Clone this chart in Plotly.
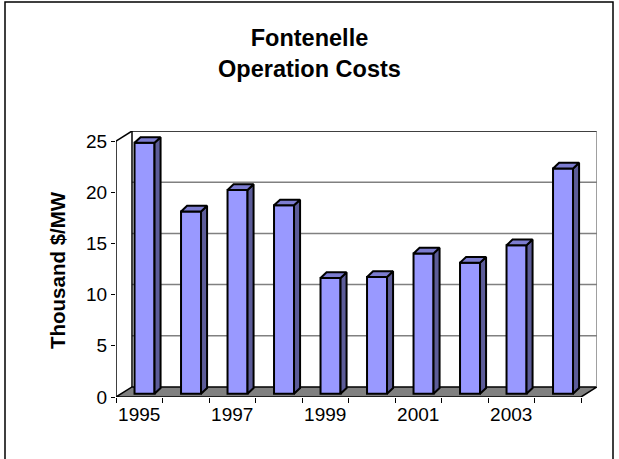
import plotly.graph_objects as go

# Dados (mil $/MW por ano)
anos = [1995, 1996, 1997, 1998, 1999, 2000, 2001, 2002, 2003, 2004]
custos = [24.5, 17.8, 19.9, 18.4, 11.3, 11.4, 13.7, 12.8, 14.5, 22.0]
rotulos_x = ["1995", "1997", "1999", "2001", "2003"]
ticks_y = [0, 5, 10, 15, 20, 25]

# Geometria do "3D" (em unidades de dados): profundidade total da parede
PROF_X = 0.344
PROF_Y = 0.98
# Posição da barra dentro da profundidade e espessura dela
FRENTE = 0.33
BARRA_DX = 0.13
BARRA_DY = 0.55
LARGURA = 0.43
Y_MAX = 25

W, H = 619, 459
M = dict(l=116, r=22, t=131, b=62)

COR_FRENTE = "#9999FF"
COR_LADO = "#5C5C99"
COR_TOPO = "#7C7CD0"
CINZA = "#808080"
FONTE = "Arial, Liberation Sans, sans-serif"

n = len(anos)
base = FRENTE * PROF_Y
xs = [i + 0.5 + FRENTE * PROF_X for i in range(n)]

# Faces laterais e superiores (um polígono por barra, separados por None)
lado_x, lado_y, topo_x, topo_y = [], [], [], []
for xc, v in zip(xs, custos):
    xl, xr = xc - LARGURA / 2, xc + LARGURA / 2
    top = base + v
    lado_x += [xr, xr, xr + BARRA_DX, xr + BARRA_DX, xr, None]
    lado_y += [base, top, top + BARRA_DY, base + BARRA_DY, base, None]
    topo_x += [xl, xr, xr + BARRA_DX, xl + BARRA_DX, xl, None]
    topo_y += [top, top, top + BARRA_DY, top + BARRA_DY, top, None]

fig = go.Figure()
fig.add_trace(go.Bar(
    x=xs, y=custos, base=[base] * n, width=LARGURA,
    marker=dict(color=COR_FRENTE, line=dict(color="black", width=2)),
    hovertext=[str(a) for a in anos], hoverinfo="text+y", showlegend=False,
))
fig.add_trace(go.Scatter(x=lado_x, y=lado_y, mode="lines", fill="toself",
                         fillcolor=COR_LADO, line=dict(color="black", width=2),
                         hoverinfo="skip", showlegend=False))
fig.add_trace(go.Scatter(x=topo_x, y=topo_y, mode="lines", fill="toself",
                         fillcolor=COR_TOPO, line=dict(color="black", width=2),
                         hoverinfo="skip", showlegend=False))

# Paredes, piso e grade (abaixo das barras)
shapes = []
topo_parede = Y_MAX + PROF_Y
for g in ticks_y[1:-1]:
    shapes.append(dict(type="line", x0=PROF_X, x1=n + PROF_X, y0=g + PROF_Y, y1=g + PROF_Y,
                       line=dict(color=CINZA, width=1.5), layer="below"))
shapes.append(dict(type="path", layer="below", fillcolor=CINZA,
                   line=dict(color="black", width=1.5),
                   path=f"M0,0 L{n},0 L{n + PROF_X},{PROF_Y} L{PROF_X},{PROF_Y} Z"))
preto = dict(color="black", width=1.5)
shapes += [
    dict(type="line", x0=PROF_X, x1=n + PROF_X, y0=topo_parede, y1=topo_parede, line=preto, layer="below"),
    dict(type="line", x0=PROF_X, x1=PROF_X, y0=PROF_Y, y1=topo_parede, line=preto, layer="below"),
    dict(type="line", x0=n + PROF_X, x1=n + PROF_X, y0=PROF_Y, y1=topo_parede,
         line=dict(color=CINZA, width=1.5), layer="below"),
    dict(type="line", x0=0, x1=PROF_X, y0=Y_MAX, y1=topo_parede, line=preto, layer="below"),
    dict(type="line", x0=0, x1=0, y0=0, y1=Y_MAX, line=preto, layer="below"),
]

# Moldura da área do gráfico (coordenadas "paper", a partir de pixels)
pw = W - M["l"] - M["r"]
ph = H - M["t"] - M["b"]
def px(x):
    return (x - M["l"]) / pw
def py(y):
    return (H - M["b"] - y) / ph
shapes.append(dict(type="rect", xref="paper", yref="paper",
                   x0=px(5), x1=px(613), y0=py(2), y1=py(470),
                   line=dict(color="black", width=1.5), layer="below"))

# Título do eixo y como anotação (fica um pouco abaixo do centro do eixo)
titulo_y = dict(text="<b>Thousand $/MW</b>", textangle=-90, showarrow=False,
                xref="paper", yref="paper", x=px(57), y=py(270),
                xanchor="center", yanchor="middle", font=dict(size=20.5, family=FONTE))

fig.update_layout(
    width=W, height=H, margin=M,
    paper_bgcolor="white", plot_bgcolor="white",
    font=dict(family=FONTE, color="black"),
    title=dict(text="<b>Fontenelle<br>Operation Costs</b>", x=0.5, xref="container",
               y=1 - 46 / H, yref="container", yanchor="top",
               font=dict(size=23.5, family=FONTE), automargin=False),
    shapes=shapes,
    annotations=[titulo_y],
    xaxis=dict(range=[0, n + PROF_X], showgrid=False, zeroline=False, showline=False,
               automargin=False,
               tickmode="array", tickvals=[anos.index(int(r)) + 0.5 for r in rotulos_x],
               ticktext=rotulos_x, ticks="", tickfont=dict(size=19), ticklabelstandoff=4,
               minor=dict(tickmode="array", tickvals=list(range(n + 1)), ticks="outside",
                          ticklen=5, tickcolor="black", showgrid=False)),
    yaxis=dict(range=[0, topo_parede], showgrid=False, zeroline=False, showline=False,
               automargin=False,
               tickmode="array", tickvals=ticks_y, ticks="outside", ticklen=4,
               tickcolor="black", tickfont=dict(size=19)),
)

# A página padrão tem margem de 8 px no <body>; zera para a figura ocupar a janela
fig.write_html("out.html", config={"displayModeBar": False},
               post_script="document.body.style.margin = '0';")
